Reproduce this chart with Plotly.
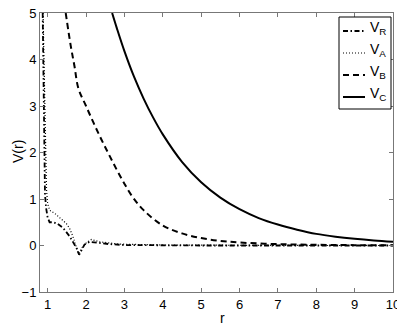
import plotly.graph_objects as go

# V_R (dash-dot)
r_R = [0.87, 0.89, 0.90, 0.92, 0.93, 0.96, 1.0, 1.05, 1.15, 1.25, 1.4, 1.57, 1.65, 1.75, 1.82, 1.9, 1.96, 2.09, 2.3, 2.6, 3.0, 4.0, 5.0, 6.0, 7.0, 8.0, 9.0, 10.0]
v_R = [5.0, 4.0, 3.0, 1.8, 1.1, 0.8, 0.6, 0.5, 0.5, 0.47, 0.38, 0.2, 0.08, -0.05, -0.2, -0.08, 0.02, 0.08, 0.06, 0.03, 0.01, 0.0, 0.0, 0.0, 0.0, 0.0, 0.0, 0.0]

# V_A (dotted)
r_A = [0.88, 0.91, 0.94, 0.97, 1.0, 1.05, 1.2, 1.31, 1.49, 1.57, 1.65, 1.75, 1.8, 1.85, 1.9, 2.01, 2.14, 2.35, 2.86, 4.0, 6.0, 8.0, 10.0]
v_A = [5.0, 3.5, 2.0, 1.2, 0.9, 0.76, 0.68, 0.6, 0.47, 0.37, 0.21, -0.04, -0.17, -0.12, -0.04, 0.06, 0.13, 0.08, 0.03, 0.01, 0.0, 0.0, 0.0]

# V_B (dashed)
r_B = [1.47, 1.6, 1.7, 1.8, 2.0, 2.2, 2.4, 2.6, 2.8, 3.0, 3.2, 3.5, 4.0, 4.5, 5.0, 5.5, 6.0, 7.0, 8.0, 9.0, 10.0]
v_B = [5.0, 4.3, 3.85, 3.38, 3.0, 2.63, 2.28, 1.95, 1.63, 1.33, 1.06, 0.76, 0.43, 0.26, 0.16, 0.1, 0.065, 0.03, 0.015, 0.008, 0.005]

# V_C (solid)
r_C = [2.68, 2.8, 3.0, 3.25, 3.5, 3.75, 4.0, 4.5, 5.0, 5.5, 6.0, 6.5, 7.0, 7.5, 8.0, 8.5, 9.0, 9.5, 10.0]
v_C = [5.0, 4.68, 4.18, 3.63, 3.16, 2.75, 2.39, 1.80, 1.36, 1.03, 0.78, 0.59, 0.45, 0.34, 0.25, 0.19, 0.145, 0.11, 0.083]

names = ['V<sub>R</sub>', 'V<sub>A</sub>', 'V<sub>B</sub>', 'V<sub>C</sub>']
dashes = ['5px,2.5px,1.5px,2.5px', '1px,2px', '6px,4px', 'solid']
widths = [1.8, 1.2, 2, 2]

fig = go.Figure()
for rr, vv, nm, ds, w in zip([r_R, r_A, r_B, r_C], [v_R, v_A, v_B, v_C], names, dashes, widths):
    fig.add_trace(go.Scatter(x=rr, y=vv, mode='lines', name=nm, showlegend=False,
                             line=dict(color='black', width=w, dash=ds,
                                       shape='spline' if ds in ('solid', '6px,4px') else 'linear')))

# page body has an 8px margin, so the figure is laid out 8px smaller
OFF = 8
W, H = 405 - OFF, 327 - OFF
L, R, T, B = 40 - OFF, 393 - OFF, 13 - OFF, 292 - OFF


def px(x):
    return (x - OFF - L) / (R - L)


def py(y):
    return (B - (y - OFF)) / (B - T)


# legend drawn by hand so the sample lines are short like the original
shapes = [dict(type='rect', xref='paper', yref='paper', x0=px(339), x1=px(391), y0=py(109), y1=py(17),
               line=dict(color='black', width=1), fillcolor='white', layer='above')]
annotations = []
for i, (nm, ds, w) in enumerate(zip(names, dashes, widths)):
    yl = 31 + i * 22
    shapes.append(dict(type='line', xref='paper', yref='paper', x0=px(343), x1=px(365),
                       y0=py(yl), y1=py(yl), line=dict(color='black', width=w, dash=ds),
                       layer='above'))
    annotations.append(dict(text=nm, xref='paper', yref='paper', x=px(368), y=py(yl - 3),
                            xanchor='left', yanchor='middle', showarrow=False,
                            font=dict(size=14, color='black')))

# axis titles
annotations.append(dict(text='r', xref='paper', yref='paper', x=px(222), y=py(318),
                        xanchor='center', yanchor='middle', showarrow=False,
                        font=dict(size=14, color='black')))
annotations.append(dict(text='V(r)', xref='paper', yref='paper', x=px(8), y=py(152),
                        xanchor='left', yanchor='middle', showarrow=False, textangle=-90,
                        font=dict(size=14, color='black')))

axis_style = dict(showline=True, linecolor='#777', linewidth=1, mirror='ticks',
                  ticks='inside', ticklen=4, tickcolor='#777', showgrid=False,
                  zeroline=False, automargin=False, ticklabeloverflow='allow',
                  tickfont=dict(size=13, color='black'))

fig.update_layout(
    width=W, height=H,
    margin=dict(l=L, r=W - R, t=T, b=H - B, autoexpand=False),
    paper_bgcolor='white', plot_bgcolor='white',
    font=dict(family='Liberation Sans, Arial, sans-serif', size=13, color='black'),
    xaxis=dict(range=[0.8, 10], tickvals=list(range(1, 11)), **axis_style),
    yaxis=dict(range=[-1, 5], tickvals=list(range(-1, 6)), **axis_style),
    shapes=shapes,
    annotations=annotations,
    showlegend=False,
)

fig.write_html("out.html")
